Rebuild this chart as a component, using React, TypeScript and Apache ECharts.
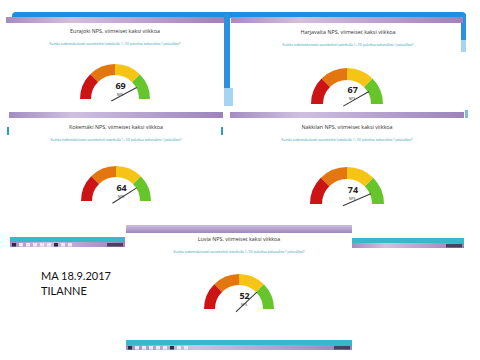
import React, { useEffect, useRef } from "react";
import * as echarts from "echarts";

const places = ["Eurajoki", "Harjavalta", "Kokemäki", "Nakkilan", "Luvia"];
const npsValues = [69, 67, 64, 74, 52];
const bandLimits = [-50, 0, 50, 100];
const bandColors = ["#cc1414", "#e4760f", "#f6c414", "#66c52a"];
const npsMin = -100;
const npsMax = 100;
const titleSuffix = " NPS, viimeiset kaksi viikkoa";
const question = "Kuinka todennäköisesti suosittelisit (asteikolla 1–10) palvelua tuttavallesi / ystävällesi?";
const dateLines = ["MA 18.9.2017", "TILANNE"];

// panel layout: title centre x, title y, gauge centre, radius
const layout = [
  { tx: 115, ty: 31, cx: 115, cy: 99, r: 35 },
  { tx: 348, ty: 32, cx: 347, cy: 104, r: 36 },
  { tx: 116, ty: 127, cx: 116, cy: 201, r: 35 },
  { tx: 347, ty: 127, cx: 347, cy: 204, r: 37 },
  { tx: 239, ty: 239, cx: 239, cy: 309, r: 35 },
];

const lilac = {
  type: "linear", x: 0, y: 0, x2: 1, y2: 0,
  colorStops: [
    { offset: 0, color: "#a48cc2" },
    { offset: 0.3, color: "#cfc0e0" },
    { offset: 0.6, color: "#b9a5d2" },
    { offset: 1, color: "#9c82ba" },
  ],
};
const lilacV = {
  type: "linear", x: 0, y: 0, x2: 0, y2: 1,
  colorStops: [
    { offset: 0, color: "#cdbfe0" },
    { offset: 1, color: "#9f88bd" },
  ],
};

function bar(x: number, y: number, w: number, h: number, fill: any) {
  return { type: "rect", shape: { x, y, width: w, height: h }, style: { fill } };
}

function taskbar(x: number, y: number, w: number, icons: number) {
  const items: any[] = [
    bar(x, y, w, 5, "#38b9c9"),
    bar(x, y + 5, w, 5, lilac),
  ];
  for (let i = 0; i < icons; i++) {
    items.push(bar(x + 2 + i * 7, y + 6, 4, 3.5, i === 0 || i === 6 ? "#2c2c44" : "#ece8f2"));
  }
  items.push(bar(x + w - 18, y + 6, 16, 3.5, "#4a4060"));
  return items;
}

export default function App() {
  const ref = useRef<HTMLDivElement>(null);
  useEffect(() => {
    if (!ref.current) return;
    const chart = echarts.init(ref.current, undefined, { renderer: "svg" });
    const stops = bandLimits.map((v, i) => [(v - npsMin) / (npsMax - npsMin), bandColors[i]]);

    const series = places.map((p, i) => {
      const L = layout[i];
      return {
        type: "gauge",
        center: [L.cx, L.cy],
        radius: L.r,
        startAngle: 180,
        endAngle: 0,
        min: npsMin,
        max: npsMax,
        splitNumber: 1,
        axisLine: { lineStyle: { width: Math.round(L.r * 0.32), color: stops } },
        axisTick: { show: false },
        splitLine: { show: false },
        axisLabel: { show: false },
        anchor: { show: false },
        pointer: {
          icon: "rect",
          width: 1.1,
          length: "82%",
          offsetCenter: [0, "12%"],
          itemStyle: { color: "#3a3a3a" },
        },
        title: { offsetCenter: ["14%", "-14%"], fontSize: 3.4, color: "#333", fontFamily: "Open Sans" },
        detail: {
          offsetCenter: ["16%", "-40%"],
          fontSize: 9,
          fontWeight: "bold",
          color: "#222",
          fontFamily: "Open Sans",
          formatter: "{value}",
        },
        data: [{ value: npsValues[i], name: "NPS" }],
      };
    });

    const texts: any[] = [];
    places.forEach((p, i) => {
      const L = layout[i];
      texts.push({
        type: "text", x: L.tx, y: L.ty,
        style: { text: p + titleSuffix, fontSize: 5.4, fill: "#333", fontFamily: "Open Sans", align: "center", verticalAlign: "middle" },
      });
      texts.push({
        type: "text", x: L.tx, y: L.ty + 12,
        style: { text: question, fontSize: 3.3, fill: "#2a9db5", fontFamily: "Open Sans", align: "center", verticalAlign: "middle" },
      });
    });
    dateLines.forEach((t, i) => {
      texts.push({
        type: "text", x: 41, y: 275 + i * 15,
        style: { text: t, fontSize: 11, fill: "#111", fontFamily: "Lato", verticalAlign: "middle" },
      });
    });

    const deco: any[] = [
      // blue window frames at the top
      { type: "rect", shape: { x: 12, y: 12, width: 454, height: 6, r: [4, 4, 0, 0] }, style: { fill: "#1e8ee2" } },
      bar(224, 14, 6, 76, "#2a90e0"),
      bar(224, 88, 9, 18, "#a8d4f3"),
      bar(461, 14, 5, 26, "#2a90e0"),
      bar(461, 40, 5, 12, "#a8d4f3"),
      bar(465, 110, 3, 8, "#7fb8ea"),
      // window title bars
      bar(6, 17, 218, 6, lilac),
      bar(231, 17, 232, 6, lilac),
      bar(9, 112, 214, 6, lilac),
      bar(230, 112, 234, 6, lilac),
      bar(126, 225, 226, 8, lilacV),
      // small teal marks
      bar(7, 127, 2, 8, "#2aa0b8"),
      bar(221, 127, 2, 8, "#2aa0b8"),
      ...taskbar(10, 237, 115, 9),
      ...taskbar(352, 238, 112, 0),
      ...taskbar(126, 340, 226, 9),
    ];

    chart.setOption({
      animation: false,
      backgroundColor: "#ffffff",
      graphic: { elements: [...deco, ...texts] },
      series,
    });
    return () => chart.dispose();
  }, []);
  return <div ref={ref} style={{ position: "fixed", left: 0, top: 0, width: 480, height: 360 }} />;
}
